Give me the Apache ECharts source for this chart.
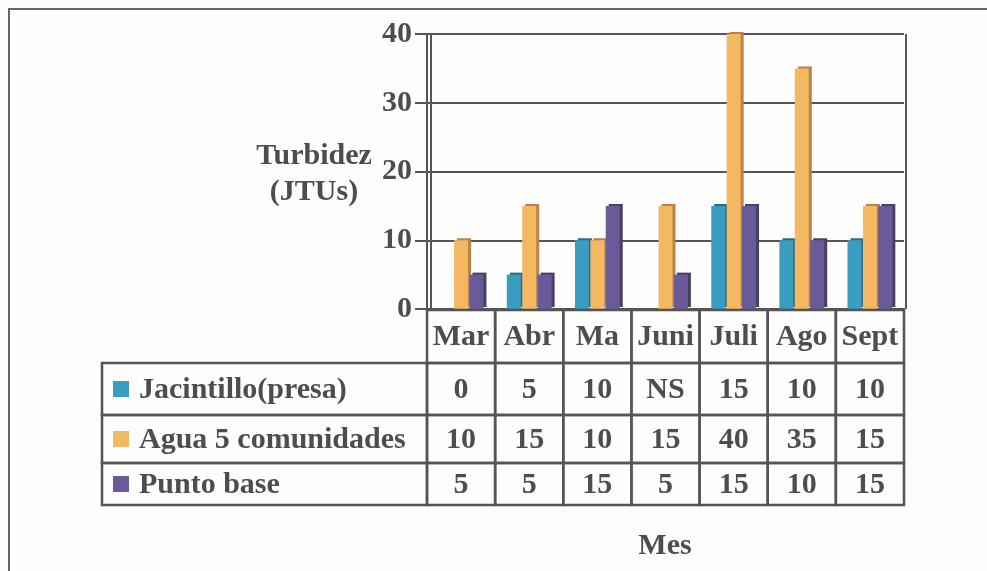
<!DOCTYPE html>
<html>
<head>
<meta charset="utf-8">
<script src="https://cdn.jsdelivr.net/npm/echarts@6/dist/echarts.min.js"></script>
<style>
  html, body { margin: 0; padding: 0; background: #fdfdfd; }
  #chart { width: 987px; height: 571px; }
</style>
</head>
<body>
<div id="chart"></div>
<script>
// datos
const months = ["Mar", "Abr", "Ma", "Juni", "Juli", "Ago", "Sept"];
const seriesNames = ["Jacintillo(presa)", "Agua 5 comunidades", "Punto base"];
const jacintillo = [0, 5, 10, null, 15, 10, 10];
const agua = [10, 15, 10, 15, 40, 35, 15];
const puntoBase = [5, 5, 15, 5, 15, 10, 15];
// "NS" = no sample
const jacintilloText = ["0", "5", "10", "NS", "15", "10", "10"];

const colors = ["#3a9cc0", "#f4b762", "#6b5a9a"];
const sideColors = ["#2a6a82", "#b9824a", "#4a4060"];
const textColor = "#4d4d4d";
const lineColor = "#555";
const fam = "Liberation Serif";

// layout
const L = 427, R = 904, TOP = 34, BASE = 309;
const colW = (R - L) / months.length;
const rows = [[310, 363], [363, 415], [415, 463], [463, 505]];

let myChart = echarts.init(document.getElementById("chart"));

function txt(x, y, text, align, extra) {
  return Object.assign({
    type: "text",
    x: x, y: y,
    z: 10,
    style: {
      text: text,
      fontFamily: fam,
      fontWeight: "bold",
      fontSize: 30,
      fill: textColor,
      align: align,
      verticalAlign: "middle",
    },
  }, extra || {});
}

const graphics = [];
// marco exterior
graphics.push({
  type: "polyline",
  shape: { points: [[9, 571], [9, 9], [987, 9]] },
  style: { stroke: "#666", lineWidth: 2, fill: null },
});
// pared izquierda doble + borde derecho
graphics.push({ type: "line", shape: { x1: 431, y1: TOP, x2: 431, y2: BASE }, style: { stroke: lineColor, lineWidth: 2 } });
graphics.push({ type: "line", shape: { x1: 906, y1: TOP, x2: 906, y2: BASE }, style: { stroke: lineColor, lineWidth: 2 } });

// tabla: fila de meses
months.forEach((m, i) => {
  graphics.push({
    type: "rect",
    shape: { x: L + i * colW, y: rows[0][0], width: colW, height: rows[0][1] - rows[0][0] },
    style: { fill: "none", stroke: lineColor, lineWidth: 2.5 },
    z: 10,
  });
});

const tableVals = [jacintilloText, agua.map(String), puntoBase.map(String)];
tableVals.forEach((vals, r) => {
  const y0 = rows[r + 1][0], y1 = rows[r + 1][1];
  const cy = (y0 + y1) / 2;
  graphics.push({
    type: "rect",
    shape: { x: 102, y: y0, width: L - 102, height: y1 - y0 },
    style: { fill: "none", stroke: lineColor, lineWidth: 2.5 },
    z: 10,
  });
  graphics.push({
    type: "rect",
    shape: { x: 113, y: cy - 8, width: 16, height: 16 },
    style: { fill: colors[r] },
    z: 10,
  });
  graphics.push(txt(139, cy + 1, seriesNames[r], "left"));
  vals.forEach((v, i) => {
    graphics.push({
      type: "rect",
      shape: { x: L + i * colW, y: y0, width: colW, height: y1 - y0 },
      style: { fill: "none", stroke: lineColor, lineWidth: 2.5 },
      z: 10,
    });
    graphics.push(txt(L + (i + 0.5) * colW, cy + 1, v, "center"));
  });
});

// títulos de ejes
const yName = txt(314, 174, "Turbidez\n(JTUs)", "center");
yName.style.lineHeight = 36;
graphics.push(yName);
graphics.push(txt(665, 546, "Mes", "center"));

function barSeries(name, data, idx) {
  return {
    name: name,
    type: "bar",
    data: data,
    barWidth: 14,
    barGap: "10%",
    itemStyle: {
      color: colors[idx],
      shadowColor: sideColors[idx],
      shadowOffsetX: 3,
      shadowOffsetY: -2,
      shadowBlur: 0,
    },
  };
}

myChart.setOption({
  animation: false,
  backgroundColor: "#fdfdfd",
  grid: { left: L, right: 987 - R, top: TOP, bottom: 571 - BASE },
  xAxis: {
    type: "category",
    data: months,
    axisLine: { show: true, lineStyle: { color: lineColor, width: 2 } },
    axisTick: { show: false },
    axisLabel: {
      interval: 0,
      margin: 28,
      verticalAlign: "middle",
      fontFamily: fam,
      fontWeight: "bold",
      fontSize: 30,
      color: textColor,
    },
  },
  yAxis: {
    type: "value",
    min: 0,
    max: 40,
    interval: 10,
    axisLine: { show: true, lineStyle: { color: lineColor, width: 2 } },
    axisTick: { show: true, length: 12, lineStyle: { color: lineColor, width: 2 } },
    axisLabel: {
      margin: 15,
      fontFamily: fam,
      fontWeight: "bold",
      fontSize: 30,
      color: textColor,
    },
    splitLine: { show: true, lineStyle: { color: lineColor, width: 2 } },
  },
  series: [
    barSeries(seriesNames[0], jacintillo, 0),
    barSeries(seriesNames[1], agua, 1),
    barSeries(seriesNames[2], puntoBase, 2),
  ],
  graphic: graphics,
});
</script>
</body>
</html>
